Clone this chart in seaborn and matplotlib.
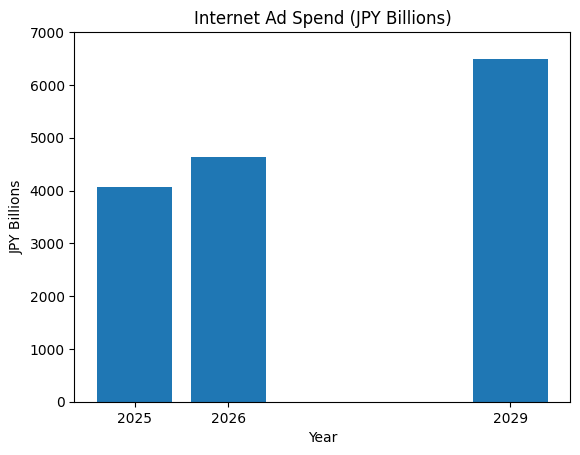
import matplotlib
matplotlib.use("Agg")
import matplotlib.pyplot as plt
import seaborn as sns

# Data
years = [2025, 2026, 2029]
spend = [4060, 4630, 6500]

fig, ax = plt.subplots(figsize=(6.4, 4.8), dpi=100)

sns.barplot(x=years, y=spend, native_scale=True, color="#1f77b4",
            saturation=1, width=0.8, ax=ax)

ax.set_xticks(years)
ax.set_xticklabels([str(y) for y in years])
ax.set_ylim(0, 7000)
ax.set_title("Internet Ad Spend (JPY Billions)")
ax.set_xlabel("Year")
ax.set_ylabel("JPY Billions")

fig.savefig("out.png", dpi=100, bbox_inches="tight")
